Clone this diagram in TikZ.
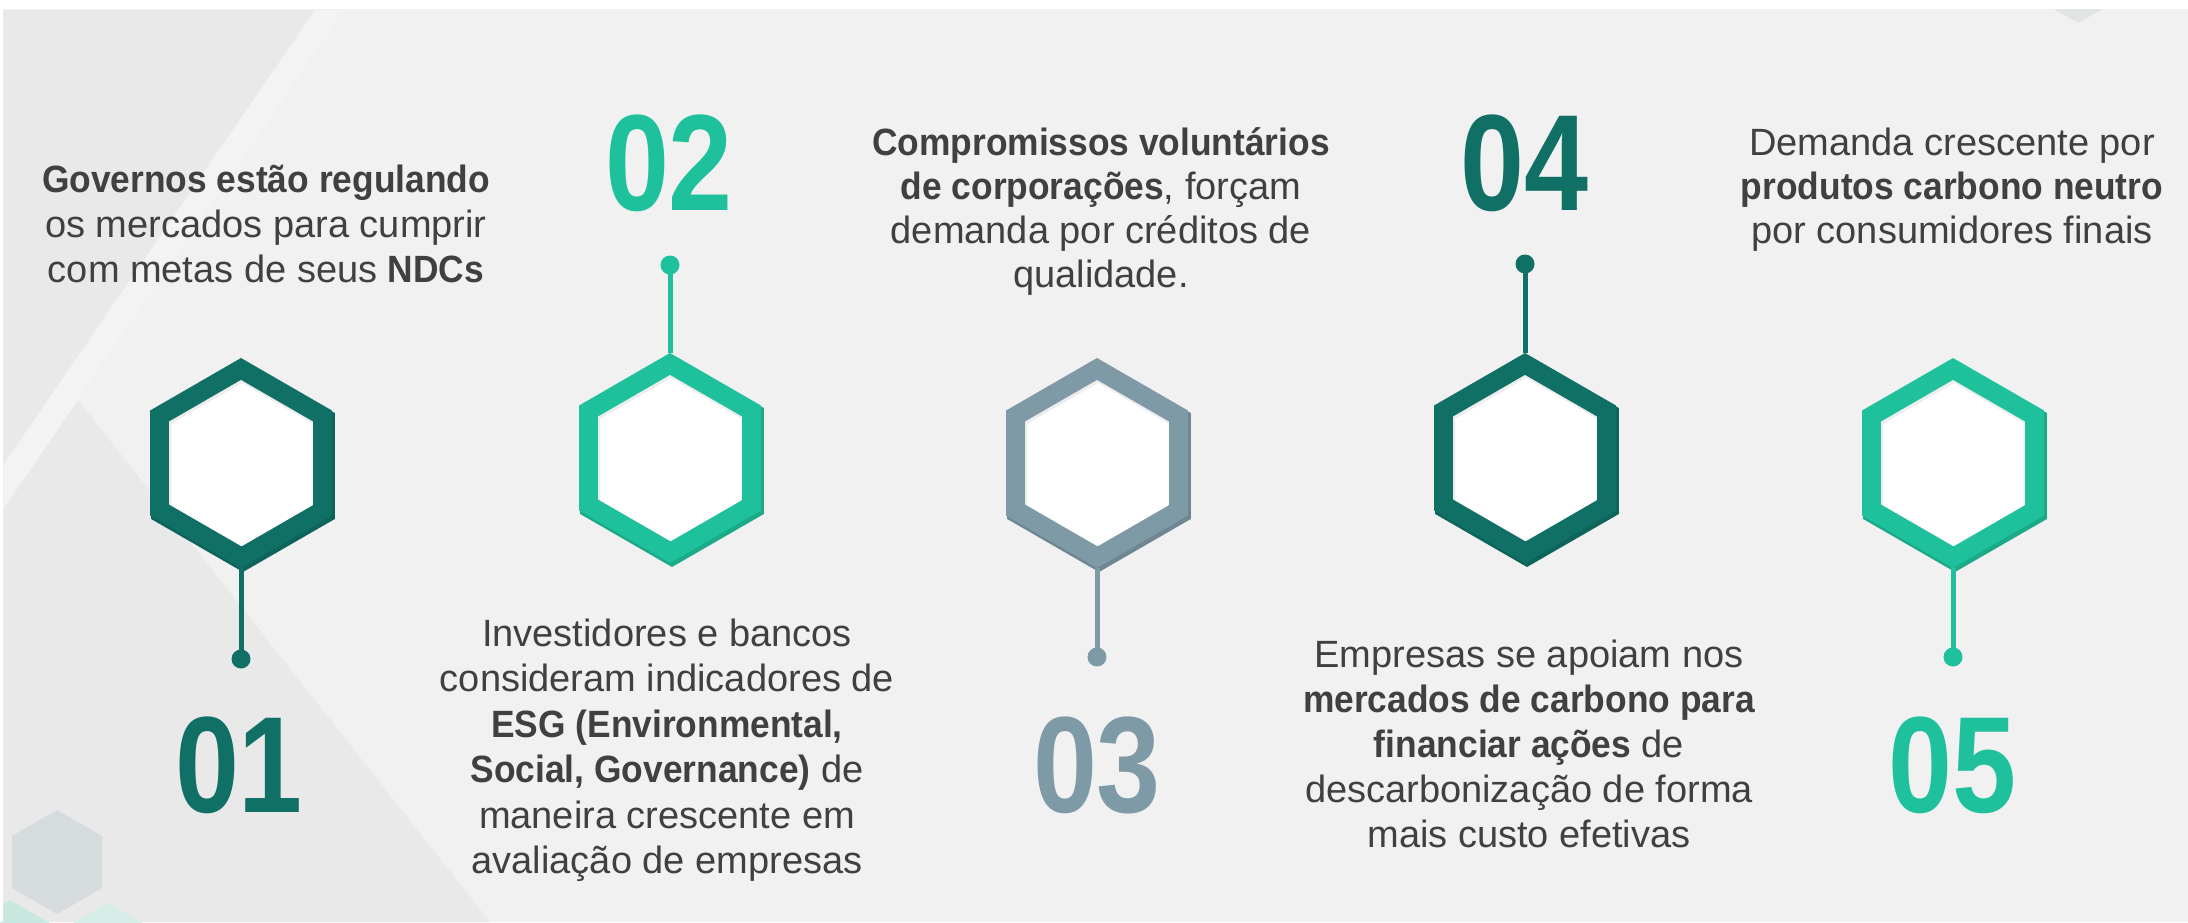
\documentclass[tikz,border=0pt]{standalone}
\usepackage{fontspec}
\setmainfont{Liberation Sans}[BoldFeatures={FakeStretch=0.93}]
\newfontfamily\numfont{Liberation Sans}[FakeStretch=0.84]
\usetikzlibrary{calc}
\definecolor{tealc}{RGB}{16,112,102}
\definecolor{greenc}{RGB}{30,193,155}
\definecolor{grayc}{RGB}{126,154,166}
\definecolor{txt}{RGB}{64,64,64}
\definecolor{bg}{RGB}{241,241,241}
\definecolor{bgdark}{RGB}{233,233,233}
\definecolor{bglight}{RGB}{243,243,243}
\definecolor{hexgray}{RGB}{214,219,222}
\definecolor{mintA}{RGB}{200,232,223}
\definecolor{mintB}{RGB}{212,238,231}
\tikzset{
  body/.style={font=\fontsize{19pt}{22.5pt}\selectfont, text=txt, inner sep=0pt, anchor=base},
  num/.style={font=\numfont\bfseries\fontsize{68.5pt}{70pt}\selectfont, inner sep=0pt, text=#1},
  dotnode/.style={circle, fill=#1, inner sep=0pt, minimum size=9.5pt},
  stem/.style={draw=#1, line width=2.5pt},
}
\newcommand\hexshape[4]{% fill colour, x, y, radius
  \fill[#1] ($(#2,#3)+(90:#4)$) \foreach \a in {150,210,270,330,30}{ -- ($(#2,#3)+(\a:#4)$)} -- cycle;
}
\newcommand\hexring[4]{% name, x, y, colour
  \coordinate (#1) at (#2,#3);
  \hexshape{#4!88!black}{#2+2}{#3+3}{106}
  \hexshape{#4}{#2}{#3}{105}
  \hexshape{black!7}{#2}{#3}{83}
  \hexshape{white}{#2+1}{#3+1.5}{81.5}
  \coordinate (#1-top) at ($(#1)+(0,-105)$);
  \coordinate (#1-bot) at ($(#1)+(0,105)$);
}
\begin{document}
\begin{tikzpicture}[x=0.5pt,y=-0.5pt]
\useasboundingbox (0,0) rectangle (2188,922);
% background
\fill[bg] (0,0) rectangle (2188,922);
\fill[bgdark] (0,10) -- (345,10) -- (78,400) -- (490,922) -- (0,922) -- cycle;
\fill[bglight] (315,10) -- (345,10) -- (78,400) -- (0,514) -- (0,470) -- cycle;
\hexshape{hexgray}{57}{862}{52}
\hexshape{mintA}{10}{955}{55}
\hexshape{mintB}{108}{958}{55}
\hexshape{hexgray!60!bg}{2078}{-32}{55}
\fill[white] (0,0) rectangle (2188,9);
\fill[white] (0,0) rectangle (3,922);

% hexagons
\hexring{h1}{241}{463}{tealc}
\hexring{h2}{670}{458}{greenc}
\hexring{h3}{1097}{463}{grayc}
\hexring{h4}{1525}{458}{tealc}
\hexring{h5}{1953}{463}{greenc}

% dots and stems
\node[dotnode=tealc]  (d1) at (241,659) {};
\node[dotnode=greenc] (d2) at (670,265) {};
\node[dotnode=grayc]  (d3) at (1097,657) {};
\node[dotnode=tealc]  (d4) at (1525,264) {};
\node[dotnode=greenc] (d5) at (1953,657) {};
\draw[stem=tealc]  (h1-bot) -- (d1.center);
\draw[stem=greenc] (h2-top) -- (d2.center);
\draw[stem=grayc]  (h3-bot) -- (d3.center);
\draw[stem=tealc]  (h4-top) -- (d4.center);
\draw[stem=greenc] (h5-bot) -- (d5.center);

% numbers
\node[num=tealc]  (n1) at (239,765) {01};
\node[num=greenc] (n2) at (669,163) {02};
\node[num=grayc]  (n3) at (1097,765) {03};
\node[num=tealc]  (n4) at (1524,163) {04};
\node[num=greenc] (n5) at (1952,765) {05};

% text 1
\node[body] (t1a) at (266,192) {\textbf{Governos estão regulando}};
\node[body] (t1b) at (266,237) {os mercados para cumprir};
\node[body] (t1c) at (266,282) {com metas de seus \textbf{NDCs}};
% text 3 (top middle)
\node[body] (t3a) at (1101,155) {\textbf{Compromissos voluntários}};
\node[body] (t3b) at (1101,199) {\textbf{de corporações}, forçam};
\node[body] (t3c) at (1101,243) {demanda por créditos de};
\node[body] (t3d) at (1101,287) {qualidade.};
% text 5 (top right)
\node[body] (t5a) at (1952,155) {Demanda crescente por};
\node[body] (t5b) at (1952,199) {\textbf{produtos carbono neutro}};
\node[body] (t5c) at (1952,243) {por consumidores finais};
% text 2 (bottom)
\node[body] (t2a) at (667,646) {Investidores e bancos};
\node[body] (t2b) at (667,691) {consideram indicadores de};
\node[body] (t2c) at (667,737) {\textbf{ESG (Environmental,}};
\node[body] (t2d) at (667,782) {\textbf{Social, Governance)} de};
\node[body] (t2e) at (667,828) {maneira crescente em};
\node[body] (t2f) at (667,873) {avaliação de empresas};
% text 4 (bottom)
\node[body] (t4a) at (1529,667) {Empresas se apoiam nos};
\node[body] (t4b) at (1529,712) {\textbf{mercados de carbono para}};
\node[body] (t4c) at (1529,757) {\textbf{financiar ações} de};
\node[body] (t4d) at (1529,802) {descarbonização de forma};
\node[body] (t4e) at (1529,847) {mais custo efetivas};
\end{tikzpicture}
\end{document}
